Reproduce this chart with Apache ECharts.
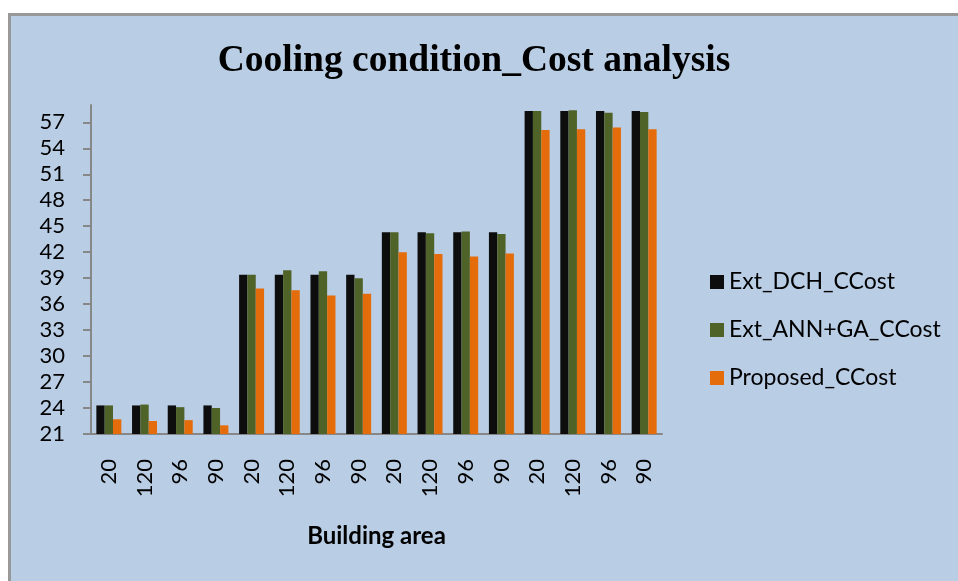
<!DOCTYPE html>
<html>
<head>
<meta charset="utf-8">
<style>html,body{margin:0;padding:0;background:#fff}#c{width:958px;height:581px}</style>
<script src="https://cdn.jsdelivr.net/npm/echarts@6/dist/echarts.min.js"></script>
</head>
<body>
<div id="c"></div>
<script>
const categories = ['20','120','96','90','20','120','96','90','20','120','96','90','20','120','96','90'];
const extDCH = [24.3,24.3,24.3,24.3,39.4,39.4,39.4,39.4,44.3,44.3,44.3,44.3,58.3,58.3,58.3,58.3];
const extANNGA = [24.3,24.4,24.1,24.0,39.4,39.9,39.8,39.0,44.3,44.2,44.4,44.1,58.3,58.4,58.1,58.2];
const proposed = [22.7,22.5,22.6,22.0,37.8,37.6,37.0,37.2,42.0,41.8,41.5,41.85,56.1,56.2,56.4,56.2];
const yTicks = [21,24,27,30,33,36,39,42,45,48,51,54,57];
const seriesNames = ['Ext_DCH_CCost','Ext_ANN+GA_CCost','Proposed_CCost'];
const colors = ['#0d0d0d','#4f6228','#e46c0a'];

const chart = echarts.init(document.getElementById('c'), null, {renderer:'canvas'});
const data = [extDCH, extANNGA, proposed];
chart.setOption({
  backgroundColor: '#b9cde5',
  animation: false,
  title: {
    text: 'Cooling condition_Cost analysis',
    left: 469, top: 37, textAlign: 'center',
    textStyle: {fontFamily: 'Liberation Serif', fontWeight: 'bold', fontSize: 37.5, color: '#000'}
  },
  graphic: [
    {type:'rect', shape:{x:0,y:0,width:958,height:13}, style:{fill:'#fff'}, silent:true},
    {type:'rect', shape:{x:0,y:0,width:8,height:581}, style:{fill:'#fff'}, silent:true},
    {type:'polyline', shape:{points:[[9.5,581],[9.5,14.5],[958,14.5]]}, style:{stroke:'#989898', lineWidth:3, fill:null}, silent:true}
  ],
  legend: {
    orient: 'vertical', left: 705, top: 264,
    itemWidth: 14, itemHeight: 14, itemGap: 22, icon: 'rect',
    textStyle: {fontFamily: 'Lato', fontSize: 23, color: '#000', lineHeight: 26},
    data: seriesNames
  },
  grid: {left: 91, right: 296, top: 105, bottom: 147, containLabel: false},
  xAxis: {
    type: 'category', data: categories,
    axisLine: {lineStyle: {color: '#878787', width: 2}},
    axisTick: {show: false},
    axisLabel: {rotate: 90, margin: 25, fontFamily: 'Lato', fontSize: 22, color: '#000', interval: 0},
    name: 'Building area', nameLocation: 'middle', nameGap: 90,
    nameTextStyle: {fontFamily: 'Lato', fontWeight: 'bold', fontSize: 24, color: '#000'}
  },
  yAxis: {
    type: 'value', min: 21, max: 59, interval: 3,
    splitLine: {show: false},
    axisLine: {show: true, lineStyle: {color: '#878787', width: 2}},
    axisTick: {show: true, length: 8, lineStyle: {color: '#878787', width: 2}, customValues: yTicks},
    axisLabel: {margin: 26, fontFamily: 'Lato', fontSize: 22, color: '#000', customValues: yTicks}
  },
  series: seriesNames.map((n, i) => ({
    name: n, type: 'bar', data: data[i],
    barGap: '0%', barCategoryGap: '30%',
    itemStyle: {color: colors[i]}
  }))
});
</script>
</body>
</html>
